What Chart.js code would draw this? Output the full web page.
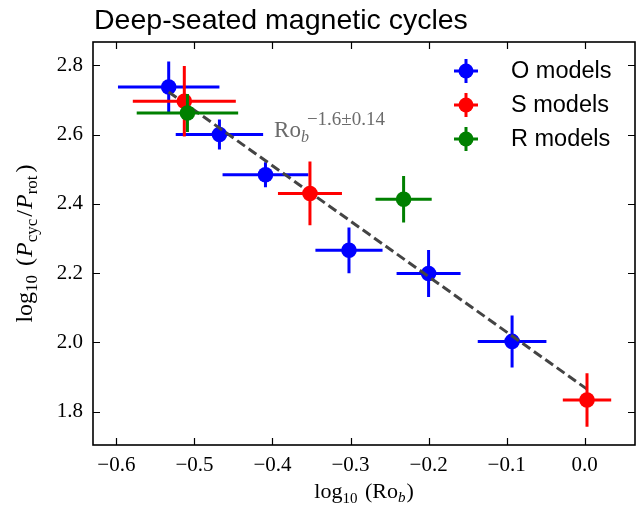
<!DOCTYPE html>
<html>
<head>
<meta charset="utf-8">
<script src="https://cdn.jsdelivr.net/npm/chart.js@4/dist/chart.umd.min.js"></script>
<style>
html, body { margin: 0; padding: 0; background: #fff; }
#wrap { width: 644px; height: 505px; position: relative; }
</style>
</head>
<body>
<div id="wrap"><canvas id="c"></canvas></div>
<script>
// O models: log10(Ro_b), log10(Pcyc/Prot) and their uncertainties
const oX    = [-0.533, -0.468, -0.409, -0.302, -0.200, -0.093];
const oY    = [ 2.737,  2.600,  2.484,  2.266,  2.199,  2.003];
const oXErr = [ 0.065,  0.056,  0.055,  0.043,  0.041,  0.044];
const oYErr = [ 0.074,  0.043,  0.036,  0.066,  0.068,  0.075];

// S models
const sX    = [-0.513, -0.352, 0.003];
const sY    = [ 2.696,  2.430, 1.834];
const sXErr = [ 0.066,  0.041, 0.031];
const sYErr = [ 0.102,  0.092, 0.077];

// R models
const rX    = [-0.509, -0.232];
const rY    = [ 2.662,  2.413];
const rXErr = [ 0.065,  0.036];
const rYErr = [ 0.055,  0.067];

// power-law fit  Pcyc/Prot ∝ Ro_b^slope
const fitSlope     = -1.6;
const fitSlopeErr  = 0.14;
const fitIntercept = 1.870;

const xTicks = [-0.6, -0.5, -0.4, -0.3, -0.2, -0.1, 0.0];
const yTicks = [1.8, 2.0, 2.2, 2.4, 2.6, 2.8];

const SERIF = '"Liberation Serif", "Times New Roman", serif';
const SANS  = '"Liberation Sans", Arial, Helvetica, sans-serif';

function points(xs, ys, xe, ye) {
  return xs.map((x, i) => ({ x: x, y: ys[i], xErr: xe[i], yErr: ye[i] }));
}

const allX = [...oX, ...sX, ...rX];
const fitX = [Math.min(...allX), Math.max(...allX)];
const fitLine = fitX.map(x => ({ x: x, y: fitIntercept + fitSlope * x }));

function fmtTick(v) {
  return v.toFixed(1).replace('-', '\u2212');
}

// error bars, drawn beneath each dataset's own markers
const errorBars = {
  id: 'errorBars',
  beforeDatasetDraw(chart, args) {
    const ds = chart.data.datasets[args.index];
    if (!ds.errorBars) return;
    const { ctx, scales: { x, y } } = chart;
    ctx.save();
    ctx.strokeStyle = ds.backgroundColor;
    ctx.lineWidth = 3;
    ctx.lineCap = 'butt';
    ctx.beginPath();
    ds.data.forEach(p => {
      const px = x.getPixelForValue(p.x);
      const py = y.getPixelForValue(p.y);
      ctx.moveTo(x.getPixelForValue(p.x - p.xErr), py);
      ctx.lineTo(x.getPixelForValue(p.x + p.xErr), py);
      ctx.moveTo(px, y.getPixelForValue(p.y - p.yErr));
      ctx.lineTo(px, y.getPixelForValue(p.y + p.yErr));
    });
    ctx.stroke();
    ctx.restore();
  }
};

// text made of runs with sub/superscripts
function drawRuns(ctx, runs, x, y, align) {
  let total = 0;
  runs.forEach(r => {
    ctx.font = r.font;
    r.w = ctx.measureText(r.text).width;
    total += r.w + (r.dx || 0);
  });
  let cx = align === 'center' ? x - total / 2 : x;
  runs.forEach(r => {
    ctx.font = r.font;
    cx += (r.dx || 0);
    ctx.fillText(r.text, cx, y + (r.dy || 0));
    cx += r.w;
  });
}

// frame with inward ticks on all four sides
const frame = {
  id: 'frame',
  afterDraw(chart) {
    const { ctx, chartArea: a, scales: { x, y } } = chart;
    const tl = 7;
    ctx.save();
    ctx.strokeStyle = '#000';
    ctx.lineWidth = 1.2;
    ctx.beginPath();
    xTicks.forEach(v => {
      const px = Math.round(x.getPixelForValue(v)) + 0.5;
      ctx.moveTo(px, a.bottom); ctx.lineTo(px, a.bottom - tl);
      ctx.moveTo(px, a.top);    ctx.lineTo(px, a.top + tl);
    });
    yTicks.forEach(v => {
      const py = Math.round(y.getPixelForValue(v)) + 0.5;
      ctx.moveTo(a.left, py);  ctx.lineTo(a.left + tl, py);
      ctx.moveTo(a.right, py); ctx.lineTo(a.right - tl, py);
    });
    ctx.stroke();
    ctx.lineWidth = 1.6;
    ctx.strokeRect(a.left, a.top, a.right - a.left, a.bottom - a.top);
    ctx.restore();
  }
};

// title, axis labels, fit annotation and legend
const texts = {
  id: 'texts',
  afterDraw(chart) {
    const { ctx, chartArea: a, scales: { x, y } } = chart;
    ctx.save();
    ctx.fillStyle = '#000';
    ctx.textBaseline = 'alphabetic';
    ctx.textAlign = 'left';

    // title
    ctx.font = '28.5px ' + SANS;
    ctx.fillText('Deep-seated magnetic cycles', a.left + 1, 29);

    // x-axis label
    const big = '22px ' + SERIF, small = '15px ' + SERIF, smallIt = 'italic 15px ' + SERIF;
    drawRuns(ctx, [
      { text: 'log', font: big },
      { text: '10', font: small, dy: 5 },
      { text: ' (Ro', font: big, dx: 2 },
      { text: 'b', font: smallIt, dy: 4 },
      { text: ')', font: big, dx: 1 }
    ], (a.left + a.right) / 2, 498, 'center');

    // y-axis label
    const yb = '24px ' + SERIF, ybIt = 'italic 24px ' + SERIF, ys = '17px ' + SERIF;
    ctx.save();
    ctx.translate(32, (a.top + a.bottom) / 2);
    ctx.rotate(-Math.PI / 2);
    drawRuns(ctx, [
      { text: 'log', font: yb },
      { text: '10', font: ys, dy: 5 },
      { text: ' (', font: yb, dx: 3 },
      { text: 'P', font: ybIt, dx: 1 },
      { text: 'cyc', font: ys, dy: 5 },
      { text: '/', font: yb, dx: 2 },
      { text: 'P', font: ybIt, dx: 1 },
      { text: 'rot', font: ys, dy: 5 },
      { text: ')', font: yb, dx: 3 }
    ], 0, 0, 'center');
    ctx.restore();

    // fit annotation
    ctx.fillStyle = '#6b6b6b';
    const ax = x.getPixelForValue(-0.398), ay = y.getPixelForValue(2.592);
    ctx.font = '23px ' + SERIF;
    ctx.fillText('Ro', ax, ay);
    const rw = ctx.measureText('Ro').width;
    ctx.font = 'italic 16px ' + SERIF;
    ctx.fillText('b', ax + rw, ay + 5);
    ctx.font = '19px ' + SERIF;
    const expo = '\u2212' + Math.abs(fitSlope).toFixed(1) + '\u00b1' + fitSlopeErr.toFixed(2);
    ctx.fillText(expo, ax + rw + 6, ay - 12);

    // legend
    const rows = chart.data.datasets.filter(d => d.errorBars);
    const lx = 466, ly0 = 71, dy = 34;
    rows.forEach((d, i) => {
      const cy = ly0 + i * dy;
      ctx.strokeStyle = d.backgroundColor;
      ctx.fillStyle = d.backgroundColor;
      ctx.lineWidth = 3;
      ctx.beginPath();
      ctx.moveTo(lx - 12, cy); ctx.lineTo(lx + 12, cy);
      ctx.moveTo(lx, cy - 12); ctx.lineTo(lx, cy + 12);
      ctx.stroke();
      ctx.beginPath();
      ctx.arc(lx, cy, 7.5, 0, Math.PI * 2);
      ctx.fill();
      ctx.fillStyle = '#000';
      ctx.font = '23.5px ' + SANS;
      ctx.textBaseline = 'middle';
      ctx.fillText(d.label, 511, cy + 1);
      ctx.textBaseline = 'alphabetic';
    });
    ctx.restore();
  }
};

new Chart(document.getElementById('c'), {
  type: 'scatter',
  data: {
    datasets: [
      { label: 'O models', data: points(oX, oY, oXErr, oYErr), errorBars: true,
        backgroundColor: '#0000ff', pointRadius: 7.8, pointHoverRadius: 7.8, pointBorderWidth: 0, order: 4 },
      { label: 'fit', data: fitLine, type: 'line', showLine: true,
        borderColor: '#444444', borderWidth: 3, borderDash: [9.5, 4.5], pointRadius: 0, fill: false, order: 3 },
      { label: 'S models', data: points(sX, sY, sXErr, sYErr), errorBars: true,
        backgroundColor: '#ff0000', pointRadius: 7.8, pointHoverRadius: 7.8, pointBorderWidth: 0, order: 2 },
      { label: 'R models', data: points(rX, rY, rXErr, rYErr), errorBars: true,
        backgroundColor: '#008000', pointRadius: 7.8, pointHoverRadius: 7.8, pointBorderWidth: 0, order: 1 }
    ]
  },
  options: {
    responsive: true,
    maintainAspectRatio: false,
    animation: false,
    events: [],
    layout: { padding: { top: 42, right: 9, bottom: 0, left: 0 } },
    plugins: { legend: { display: false }, tooltip: { enabled: false }, title: { display: false } },
    scales: {
      x: {
        type: 'linear', min: -0.63, max: 0.0645,
        grid: { display: false, drawTicks: false }, border: { display: false },
        afterBuildTicks: s => { s.ticks = xTicks.map(v => ({ value: v })); },
        afterFit: s => { s.height = 60; },
        ticks: { autoSkip: false, maxRotation: 0, padding: 8, color: '#000',
                 font: { family: SERIF, size: 21 }, callback: v => fmtTick(v) }
      },
      y: {
        type: 'linear', min: 1.704, max: 2.867,
        grid: { display: false, drawTicks: false }, border: { display: false },
        afterBuildTicks: s => { s.ticks = yTicks.map(v => ({ value: v })); },
        afterFit: s => { s.width = 93; },
        ticks: { autoSkip: false, padding: 10, color: '#000',
                 font: { family: SERIF, size: 21 }, callback: v => fmtTick(v) }
      }
    }
  },
  plugins: [errorBars, frame, texts]
});
</script>
</body>
</html>
